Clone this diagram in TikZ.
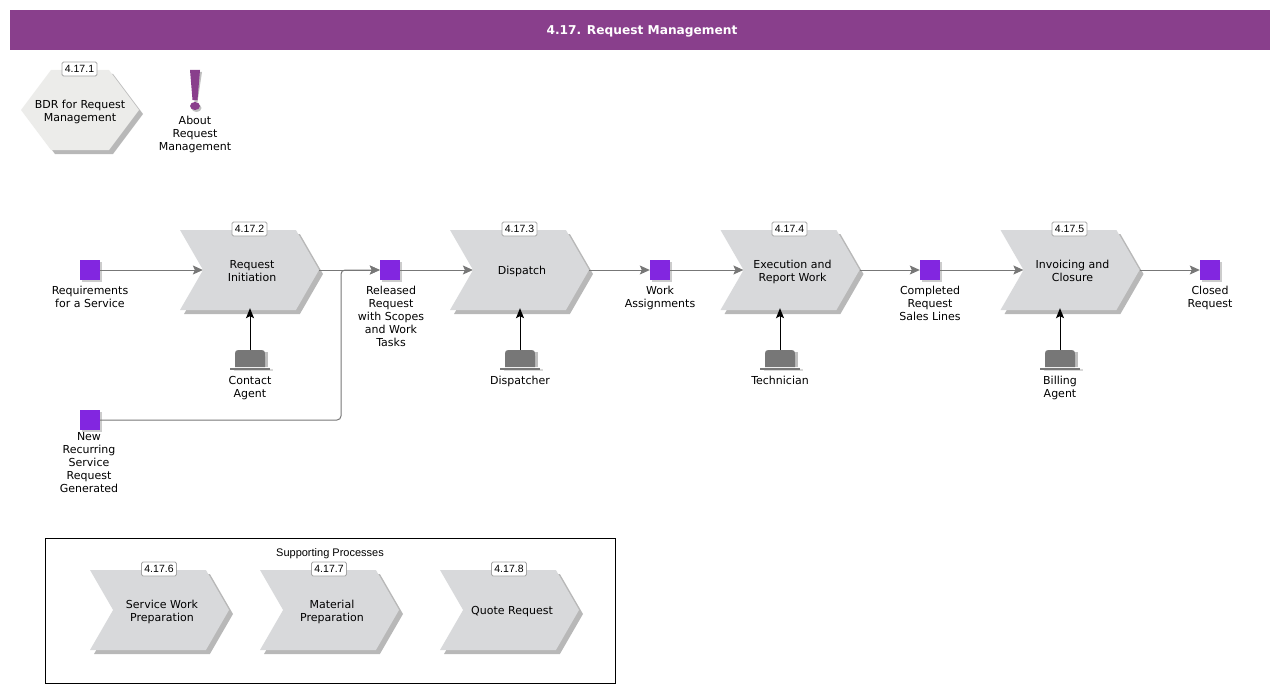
\documentclass[tikz,border=0pt]{standalone}
\usepackage{fontspec}
\setmainfont{DejaVu Sans}
\newfontfamily\tagfont{Liberation Sans}
\usepackage{tikz}
\usetikzlibrary{calc,arrows.meta,shapes.symbols,shadows}

\definecolor{titlepurple}{HTML}{893F8C}
\definecolor{eventpurple}{HTML}{8226E0}
\definecolor{chevrongray}{HTML}{D8D9DB}
\definecolor{hexgray}{HTML}{ECECEA}
\definecolor{linegray}{HTML}{777777}
\definecolor{rolegray}{HTML}{777777}

% centred lines that take no width in the shape
\newcommand{\boxtext}[2][5pt]{\hspace*{#1}\makebox[0pt]{\raisebox{-2.5pt}[\height][\depth]{\begin{tabular}{@{}c@{}}#2\end{tabular}}}}
\newcommand{\boxline}[2][5pt]{\hspace*{#1}\makebox[0pt]{\raisebox{-1.5pt}[\height][\depth]{#2}}}

\tikzset{
    softshadow/.style={drop shadow={shadow xshift=4pt,shadow yshift=-4pt,fill=black,opacity=0.28}},
    chevron/.style={signal,signal from=west,signal to=east,signal pointer angle=120,
        minimum width=139pt,minimum height=80pt,inner sep=0pt,fill=chevrongray,softshadow,
        font=\fontsize{11}{13}\selectfont},
    hexbox/.style={signal,signal to=west and east,signal pointer angle=106.3,
        minimum width=118pt,minimum height=80pt,inner sep=0pt,fill=hexgray,softshadow,
        font=\fontsize{11}{13}\selectfont},
    eventbox/.style={rectangle,minimum size=20pt,inner sep=0pt,fill=eventpurple,
        drop shadow={shadow xshift=2pt,shadow yshift=-2pt,fill=black,opacity=0.2}},
    caption/.style={anchor=north,inner sep=0pt,align=center,font=\fontsize{11}{13}\selectfont},
    tagbox/.style={rectangle,rounded corners=1.5pt,draw=black!35,fill=white,line width=0.8pt,
        minimum width=35pt,minimum height=14pt,inner sep=0pt,font=\tagfont\fontsize{10.5}{12}\selectfont},
    flow/.style={draw=linegray,line width=1pt,-{Stealth[length=10pt,width=9pt,inset=2pt]}},
    rolearrow/.style={draw=black,line width=1pt,-{Stealth[length=10pt,width=8pt,inset=2pt]},shorten >=-2pt},
    roleicon/.pic={
        \fill[black!15] (-16,2) rectangle (23,0);
        \fill[black!25] (-13,-2) -- (-13,-17) -- (18,-17) -- (18,-2) -- cycle;
        \fill[rolegray] (-15,-2) -- (-15,-12) .. controls (-15,-19) and (-15,-19) .. (-8,-19) -- (8,-19)
            .. controls (15,-19) and (15,-19) .. (15,-12) -- (15,-2) -- cycle;
        \fill[rolegray] (-20,1) rectangle (20,-1);
        \coordinate (-top) at (0,-19);
    },
}

\begin{document}
\begin{tikzpicture}[x=1pt,y=-1pt]
    \useasboundingbox (0,0) rectangle (1280,693);

    % title bar
    \node[rectangle,minimum width=1260pt,minimum height=40pt,inner sep=0pt,fill=titlepurple,text=white,
        font=\bfseries\fontsize{12.2}{15}\selectfont] (title) at (640,30) {\boxline[4pt]{4.17. Request Management}};

    % top left items
    \node[hexbox] (bdr) at (80,110) {\boxtext[0pt]{BDR for Request\\Management}};
    \node[tagbox] (tagbdr) at (79.5,69) {4.17.1};
    \fill[black!25] (193,72) -- (202,72) -- (197.5,102) -- (194.5,102) -- cycle (196.5,108) ellipse (5 and 4);
    \fill[titlepurple] (190,70) -- (200,70) -- (197.5,100) -- (192.5,100) -- cycle (195,106) ellipse (5 and 4);
    \node[caption] (about) at (195,115.5) {About\\Request\\Management};

    % main row
    \node[eventbox] (requirements) at (90,270) {};
    \node[eventbox] (released) at (390,270) {};
    \node[eventbox] (assignments) at (660,270) {};
    \node[eventbox] (completed) at (930,270) {};
    \node[eventbox] (closed) at (1210,270) {};
    \node[eventbox] (recurring) at (90,420) {};
    \node[caption] (requirementslabel) at (90,285.5) {Requirements\\for a Service};
    \node[caption] (releasedlabel) at (391,285.5) {Released\\Request\\with Scopes\\and Work\\Tasks};
    \node[caption] (assignmentslabel) at (660,285.5) {Work\\Assignments};
    \node[caption] (completedlabel) at (930,285.5) {Completed\\Request\\Sales Lines};
    \node[caption] (closedlabel) at (1210,285.5) {Closed\\Request};
    \node[caption] (recurringlabel) at (89,432.5) {New\\Recurring\\Service\\Request\\Generated};

    \node[chevron] (initiation) at (249.5,270) {\boxtext{Request\\Initiation}};
    \node[chevron] (dispatch) at (519.5,270) {\boxline{Dispatch}};
    \node[chevron] (execution) at (790,270) {\boxtext{Execution and\\Report Work}};
    \node[chevron] (invoicing) at (1070,270) {\boxtext{Invoicing and\\Closure}};
    \node[tagbox] (tag2) at (249.5,229) {4.17.2};
    \node[tagbox] (tag3) at (519.5,229) {4.17.3};
    \node[tagbox] (tag4) at (789.5,229) {4.17.4};
    \node[tagbox] (tag5) at (1069.5,229) {4.17.5};

    \draw[flow] (requirements.east) -- (initiation.west);
    \draw[flow] (initiation.east) -- (released.west);
    \draw[flow] (released.east) -- (dispatch.west);
    \draw[flow] (dispatch.east) -- (assignments.west);
    \draw[flow] (assignments.east) -- (execution.west);
    \draw[flow] (execution.east) -- (completed.west);
    \draw[flow] (completed.east) -- (invoicing.west);
    \draw[flow] (invoicing.east) -- (closed.west);
    \coordinate (merge) at (341,270);
    \draw[flow,rounded corners=4pt] (recurring.east) -| (merge) -- (released.west);

    % roles
    \pic (contact) at (250,369) {roleicon};
    \pic (dispatcher) at (520,369) {roleicon};
    \pic (technician) at (780,369) {roleicon};
    \pic (billing) at (1060,369) {roleicon};
    \node[caption] (contactlabel) at (250,376) {Contact\\Agent};
    \node[caption] (dispatcherlabel) at (520,375.5) {Dispatcher};
    \node[caption] (technicianlabel) at (780,375.5) {Technician};
    \node[caption] (billinglabel) at (1060,375.5) {Billing\\Agent};
    \draw[rolearrow] (contact-top) -- (contact-top |- initiation.south);
    \draw[rolearrow] (dispatcher-top) -- (dispatcher-top |- dispatch.south);
    \draw[rolearrow] (technician-top) -- (technician-top |- execution.south);
    \draw[rolearrow] (billing-top) -- (billing-top |- invoicing.south);

    % supporting processes
    \node[rectangle,draw=black,line width=1pt,minimum width=570pt,minimum height=145pt,inner sep=0pt] (support) at (330,611) {};
    \node[inner sep=0pt,font=\tagfont\fontsize{11}{13}\selectfont] (supportlabel) at (330,553.5) {Supporting Processes};
    \node[chevron] (servicework) at (159.5,610) {\boxtext{Service Work\\Preparation}};
    \node[chevron] (material) at (329.5,610) {\boxtext{Material\\Preparation}};
    \node[chevron] (quote) at (509.5,610) {\boxline{Quote Request}};
    \node[tagbox] (tag6) at (159,569) {4.17.6};
    \node[tagbox] (tag7) at (329,569) {4.17.7};
    \node[tagbox] (tag8) at (509,569) {4.17.8};
\end{tikzpicture}
\end{document}
